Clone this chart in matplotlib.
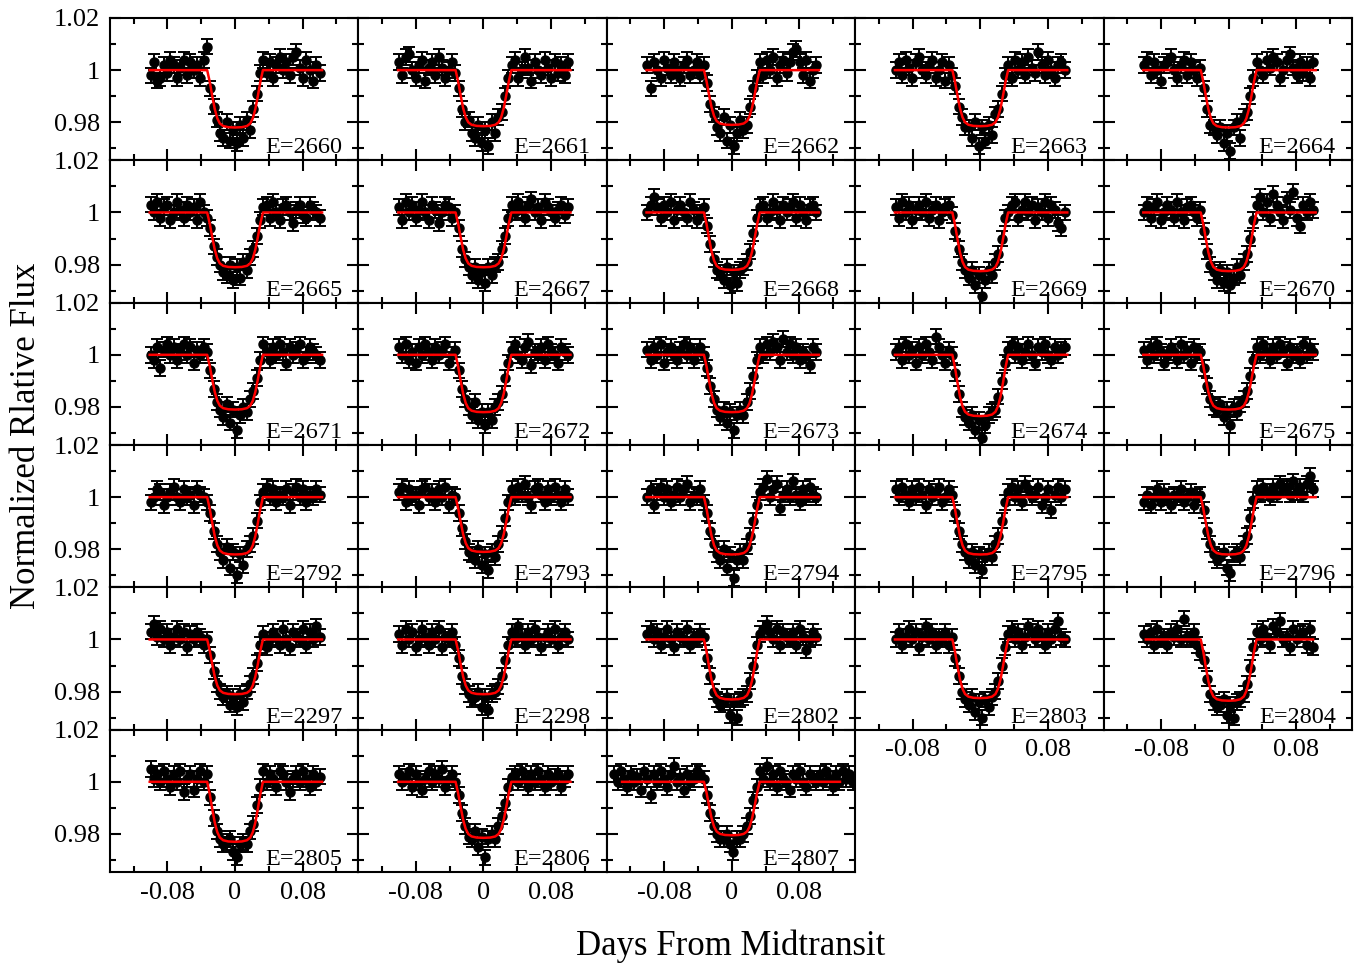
import numpy as np
import matplotlib
matplotlib.use('Agg')
import matplotlib.pyplot as plt

plt.rcParams['font.family'] = ['Liberation Serif', 'DejaVu Serif']
plt.rcParams['axes.unicode_minus'] = False

# epochs, in the order of the panels (row by row)
epochs = ['2660', '2661', '2662', '2663', '2664',
          '2665', '2667', '2668', '2669', '2670',
          '2671', '2672', '2673', '2674', '2675',
          '2792', '2793', '2794', '2795', '2796',
          '2297', '2298', '2802', '2803', '2804',
          '2805', '2806', '2807']

# fitted transit depth for each panel
depths = [0.022, 0.0215, 0.021, 0.0215, 0.022,
          0.021, 0.021, 0.022, 0.0225, 0.0225,
          0.021, 0.022, 0.022, 0.0235, 0.021,
          0.022, 0.021, 0.022, 0.022, 0.022,
          0.021, 0.021, 0.023, 0.0225, 0.0235,
          0.023, 0.0215, 0.0205]

# model shape (fraction of depth)
shape_t = [-0.033, -0.030, -0.027, -0.024, -0.021, -0.018, -0.014, -0.008, 0.0,
           0.008, 0.014, 0.018, 0.021, 0.024, 0.027, 0.030, 0.033]
shape_f = [0.0, 0.20, 0.45, 0.68, 0.84, 0.93, 0.975, 0.995, 1.0,
           0.995, 0.975, 0.93, 0.84, 0.68, 0.45, 0.20, 0.0]

# time span of the observations and of the model line (days)
obs_start = [-0.1] * 27 + [-0.1392]
obs_end = [0.1] * 27 + [0.1431]
fit_start = [-0.101] * 24 + [-0.098, -0.101, -0.101, -0.13]
fit_end = [0.103] * 24 + [0.100, 0.103, 0.103, 0.128]

# observed flux, in units of 0.001 from 1 (pre-transit, in-transit, post-transit)
f2660 = [-2, 3, -4, -3, 2, -1, 4, 2, -3, 1, 4, -2, 3, 0, 2, -3, 4, 9,
         -7, -14, -19, -24, -26, -20, -27, -23, -28, -21, -26, -19, -23, -15, -9, -1,
         4, -1, 3, -3, 2, 5, 0, 3, -2, 5, 7, 1, -3, 4, 0, -4, 2, -1]
f2661 = [3, -2, 5, 6, 0, -3, 2, 4, -4, 1, 3, -2, 5, 1, -3, 0, 3, -1,
         -7, -15, -20, -19, -24, -26, -21, -28, -23, -29, -20, -24, -18, -16, -10, -3,
         2, 4, -3, 0, 5, 1, -4, 3, 0, -2, 4, 1, -3, 3, -1, 2, -2, 3]
f2662 = [2, -7, 3, 0, -3, 4, 1, -2, 3, 0, -3, 2, 4, -2, 0, 3, -2, 2,
         -5, -13, -17, -22, -24, -18, -27, -21, -29, -24, -19, -23, -21, -14, -7, -3,
         3, -2, 4, 0, 5, -3, 2, 4, -1, 3, 7, 8, 3, -2, 4, -4, 0, 2]
f2663 = [0, 3, -2, 4, 1, -3, 3, 5, 0, -2, 2, 4, -3, 0, 3, -4, 2, -2,
         -6, -14, -18, -22, -22, -26, -20, -29, -22, -27, -21, -25, -17, -15, -9, -2,
         2, -3, 4, 0, 3, -2, 5, 1, -1, 7, 2, -2, 4, 0, -3, 2, 3, 0]
f2664 = [2, 4, -2, 3, 0, -4, 2, 3, 5, 0, -3, 2, 4, -2, 3, 0, -3, 1,
         -7, -15, -21, -22, -25, -22, -28, -24, -31, -22, -20, -26, -18, -16, -10, -3,
         3, 0, -2, 4, 1, 5, 3, -3, 0, 4, 6, 1, -2, 3, -1, 2, -3, 3]
f2665 = [3, 0, 4, -2, 2, 3, -3, 0, 4, 1, -2, 3, 0, 2, -3, 4, 0, -2,
         -6, -13, -17, -20, -23, -24, -20, -26, -21, -25, -19, -22, -17, -14, -9, -3,
         2, 3, -2, 4, 0, -3, 2, 3, 0, -4, 1, 3, -1, -2, 3, 1, 0, -2]
f2667 = [2, -3, 4, 0, 3, -2, 1, 4, 0, -3, 3, 1, -4, 0, 3, 2, -2, 0,
         -6, -14, -18, -21, -24, -21, -26, -23, -27, -21, -24, -20, -19, -14, -9, -2,
         3, 0, 4, 1, -2, 3, 5, 0, 2, -3, 4, 2, 0, -2, 1, 3, -1, 2]
f2668 = [0, 3, 6, 2, -2, 3, 0, 4, -3, 1, 3, 0, -2, 4, 1, -3, 0, 2,
         -5, -12, -18, -22, -23, -26, -21, -28, -23, -27, -22, -21, -19, -15, -8, -2,
         2, 3, -2, 0, 4, 1, -3, 3, 0, 2, 4, -2, 3, 0, -3, 2, 3, 0]
f2669 = [2, -2, 4, 0, 3, -3, 1, 3, 0, 4, -2, 1, 3, -3, 0, 2, 3, -1,
         -7, -14, -19, -22, -25, -22, -28, -24, -32, -26, -22, -24, -19, -16, -10, -2,
         0, 3, 4, -2, 1, 4, 0, 3, -3, 2, 0, 4, -2, 3, 1, -4, -6, 0]
f2670 = [0, 3, -2, 2, 4, -3, 0, 3, 1, -2, 4, 0, -3, 2, 3, 0, -2, 1,
         -7, -15, -20, -23, -26, -22, -27, -23, -28, -25, -21, -24, -19, -16, -10, -3,
         3, 6, 0, 4, -2, 7, 3, 0, -3, 5, 1, 8, -2, -5, 3, 0, 4, 1]
f2671 = [0, -2, 3, -5, 2, 4, 0, 3, -2, 1, 4, 0, 3, -3, 2, 0, 3, 1,
         -6, -13, -18, -21, -24, -19, -26, -21, -29, -23, -20, -22, -17, -14, -9, -2,
         4, 1, -2, 3, 0, 4, 1, -3, 3, 0, 2, 4, -2, 0, 3, 1, 0, -2]
f2672 = [3, 0, 4, -2, 1, -3, 3, 0, 4, 1, -2, 3, 0, 2, 4, -3, 0, 2,
         -6, -13, -17, -20, -23, -18, -25, -22, -27, -22, -25, -20, -18, -15, -9, -3,
         2, 4, 0, -2, 3, 5, -4, 1, 0, 3, -2, 4, 1, 0, -3, 3, 1, 0]
f2673 = [2, -2, 3, 0, 4, -3, 1, 3, 0, -2, 2, 4, 0, 3, -2, 1, 3, 0,
         -5, -12, -17, -21, -24, -21, -26, -22, -29, -23, -21, -23, -18, -14, -8, -2,
         3, 0, 4, 1, 5, 3, -2, 6, 1, 4, 0, 3, -2, 1, 0, -4, 3, 1]
f2674 = [1, 3, -2, 4, 0, 2, -3, 3, 0, 4, 1, -2, 7, 3, 0, -3, 2, 0,
         -7, -15, -21, -24, -26, -23, -29, -25, -32, -27, -23, -22, -21, -16, -10, -3,
         2, 4, 0, 3, -2, 1, 4, 0, -3, 3, 1, 4, 0, -2, 3, 0, 2, 3]
f2675 = [2, -2, 3, 0, 4, 1, -3, 0, 3, 1, -2, 4, 0, 2, -3, 3, 0, 1,
         -5, -12, -17, -20, -21, -19, -24, -21, -27, -20, -22, -19, -17, -14, -8, -2,
         3, 0, 4, 1, -2, 3, 0, 4, 2, -3, 3, 0, 1, -2, 4, 0, 3, 1]
f2792 = [-2, 0, 3, 2, -3, 0, 2, 4, 0, -2, 3, 0, 1, -3, 3, 1, 0, -2,
         -6, -13, -18, -21, -24, -19, -27, -21, -30, -22, -26, -20, -18, -15, -9, -2,
         2, 4, 0, 3, -2, 1, 0, 3, -3, 2, 4, 0, 3, -2, 1, 0, 3, 1]
f2793 = [2, 4, -2, 3, 0, 1, -3, 3, 4, 0, 2, -2, 3, 0, 4, -3, 1, 0,
         -6, -12, -17, -21, -22, -24, -20, -26, -22, -28, -21, -23, -18, -14, -8, -2,
         3, 0, 4, 1, 5, 0, -3, 3, 4, 1, -2, 3, 0, 4, 1, -2, 3, 0]
f2794 = [0, 3, -3, 2, 4, 0, 3, -2, 1, 4, 0, 3, 5, -2, 1, 0, 3, -2,
         -6, -13, -18, -22, -24, -20, -27, -22, -31, -24, -21, -24, -19, -15, -9, -3,
         2, 4, 7, 0, 3, 5, -4, 1, 3, 0, 6, 1, -2, 3, 0, 4, 1, 0]
f2795 = [3, 0, 4, 1, -2, 3, 0, 4, 1, -3, 3, 0, 2, 4, -2, 0, 3, 1,
         -6, -13, -18, -21, -24, -21, -26, -22, -28, -23, -21, -23, -18, -15, -9, -2,
         2, 4, 0, 3, -2, 5, 3, 0, 1, 4, -3, 0, 3, -5, 1, 4, 0, 3]
f2796 = [-2, 1, -3, 0, 3, -2, 2, 0, -3, 1, 0, 3, -2, 0, 2, -3, 0, 1,
         -5, -13, -18, -22, -24, -23, -21, -27, -29, -22, -21, -23, -18, -15, -8, -1,
         3, 1, 4, 2, 0, 4, 1, 5, 3, 4, 1, 6, 2, 4, 1, 5, 8, 3]
f2297 = [3, 6, 1, 4, 0, 3, -2, 1, 4, 0, 3, -3, 2, 0, 3, 1, -2, 0,
         -6, -12, -17, -20, -22, -21, -25, -22, -26, -21, -24, -20, -17, -14, -9, -2,
         2, -3, 0, 3, 1, -2, 4, 0, -3, 3, 1, 0, 4, -2, 3, 0, 5, 1]
f2298 = [2, -2, 4, 0, 3, -3, 0, 4, 1, -2, 3, 0, 4, -3, 1, 0, 3, -2,
         -7, -14, -18, -21, -23, -22, -20, -26, -22, -27, -21, -20, -18, -14, -8, -2,
         3, 0, 5, 1, -2, 3, 0, 4, 1, -3, 1, 3, 0, 4, -2, 1, 3, 0]
f2802 = [2, 4, 0, 3, -2, 1, 4, 0, -3, 3, 1, 0, 4, -2, 1, 0, 3, 1,
         -7, -14, -20, -23, -25, -24, -22, -29, -24, -30, -23, -22, -21, -16, -10, -2,
         2, 4, 6, 3, 0, 4, -2, 3, 1, 0, 3, -2, 4, 1, -4, 0, 3, 1]
f2803 = [0, 3, -2, 1, 4, 0, 3, -3, 1, 5, 0, 3, -2, 1, 0, 3, -2, 1,
         -7, -14, -20, -23, -25, -22, -28, -24, -30, -23, -26, -22, -20, -16, -10, -3,
         2, 4, 0, 3, -2, 1, 5, 3, 0, 4, 1, -2, 3, 0, 4, 7, 1, 0]
f2804 = [2, 0, 3, -2, 4, 0, 1, -2, 3, 1, 4, 0, 8, 1, 0, 3, -2, -5,
         -8, -15, -21, -24, -26, -25, -23, -29, -25, -30, -24, -23, -21, -17, -11, -3,
         3, 0, 4, 1, -2, 5, 3, 7, 0, 1, -3, 4, 0, 2, 3, -2, 4, -3]
f2805 = [5, 1, 3, 0, 4, 1, -2, 3, 0, 4, -4, 1, 3, -3, 1, 4, 0, 3,
         -6, -14, -19, -22, -24, -23, -22, -27, -29, -24, -23, -24, -19, -16, -9, -2,
         4, 0, 3, 1, -2, 4, 3, 0, -4, 1, 3, 0, 4, 1, -2, 3, 0, 2]
f2806 = [3, 0, 2, 4, -2, 3, 0, -3, 1, 4, 0, 3, 1, 5, -2, 1, 3, 0,
         -5, -12, -17, -21, -22, -19, -25, -21, -29, -22, -20, -22, -17, -13, -8, -2,
         2, 3, 0, 4, 1, -2, 3, 0, 4, 1, -2, 3, 0, 2, 3, -2, 1, 3]
f2807 = [3, 0, 4, 1, -2, 3, 0, 2, -3, 4,
         1, -5, 3, 0, 4, 1, -2, 3, 6, 0, 2, -3, 3, 0, 1, 4, 3, 1,
         -5, -12, -17, -20, -22, -22, -20, -24, -27, -22, -22, -20, -17, -13, -7, -2,
         4, 1, 6, 0, 3, -2, 4, 1, 0, -3, 3, 1, 4, 0, -2, 3, 1, 0,
         3, 0, 4, 1, -2, 3, 0, 4, 1, 3, 0]

fluxes = [f2660, f2661, f2662, f2663, f2664,
          f2665, f2667, f2668, f2669, f2670,
          f2671, f2672, f2673, f2674, f2675,
          f2792, f2793, f2794, f2795, f2796,
          f2297, f2298, f2802, f2803, f2804,
          f2805, f2806, f2807]

flux_err = 0.003

# figure layout in pixels
fig = plt.figure(figsize=(13.55, 9.67), dpi=100)
W, H = 1355.0, 967.0
left, top = 110.0, 18.0
pw, ph = (1352.0 - 110.0) / 5, (872.0 - 18.0) / 6

n_panels = len(epochs)
for k in range(n_panels):
    r, c = divmod(k, 5)
    ax = fig.add_axes([(left + c * pw) / W, 1 - (top + (r + 1) * ph) / H, pw / W, ph / H])

    vals = np.array(fluxes[k]) / 1000.0 + 1.0
    t = np.linspace(obs_start[k], obs_end[k], len(vals))
    ax.errorbar(t, vals, yerr=flux_err, fmt='o', color='black', ms=6.5,
                capsize=4, elinewidth=1.4, capthick=1.4, zorder=2)

    # model line
    mt = [fit_start[k]] + shape_t + [fit_end[k]]
    mf = [1.0] + [1.0 - depths[k] * s for s in shape_f] + [1.0]
    ax.plot(mt, mf, color='red', lw=1.8, zorder=3)

    ax.set_xlim(-0.148, 0.146)
    ax.set_ylim(0.9654, 1.02)
    ax.set_xticks([-0.08, 0, 0.08])
    ax.set_xticks([-0.12, -0.04, 0.04, 0.12], minor=True)
    ax.set_yticks([0.98, 1.0, 1.02])
    ax.set_yticks([0.97, 0.99, 1.01], minor=True)
    ax.tick_params(which='both', direction='in', top=True, right=True, width=1.5)
    ax.tick_params(which='major', length=8, labelsize=19)
    ax.tick_params(which='minor', length=4)
    ax.tick_params(axis='y', pad=7)
    for s in ax.spines.values():
        s.set_linewidth(1.5)

    if c == 0:
        ax.set_yticklabels(['0.98', '1', '1.02'])
    else:
        ax.set_yticklabels([])

    # x labels only under the lowest panel of each column
    bottom = (k + 5 >= n_panels)
    if bottom:
        ax.set_xticklabels(['-0.08', '0', '0.08'])
        ax.tick_params(axis='x', pad=7)
    else:
        ax.set_xticklabels([])

    ax.text(0.935, 0.05, 'E=' + epochs[k], transform=ax.transAxes,
            ha='right', va='baseline', fontsize=17.5)

fig.text(27 / W, 1 - 436 / H, 'Normalized Rlative Flux', rotation=90,
         ha='center', va='center', fontsize=25)
fig.text(731 / W, 1 - 946 / H, 'Days From Midtransit',
         ha='center', va='center', fontsize=25)

plt.savefig('out.png', dpi=100)
